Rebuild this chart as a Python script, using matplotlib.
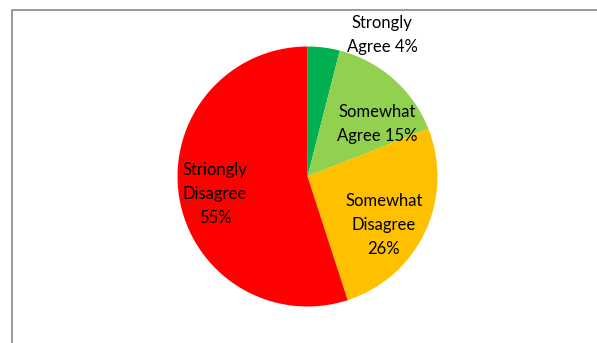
import matplotlib.pyplot as plt
from matplotlib.lines import Line2D

labels = ["Strongly\nAgree 4%", "Somewhat\nAgree 15%", "Somewhat\nDisagree\n26%", "Striongly\nDisagree\n55%"]
values = [4, 15, 26, 55]
colors = ["#00B050", "#92D050", "#FFC000", "#FF0000"]

W, H = 597, 343
fig = plt.figure(figsize=(W / 100, H / 100), dpi=100)
ax = fig.add_axes([0, 0, 1, 1])

ax.pie(values, colors=colors, startangle=90, counterclock=False,
       center=(307.5, H - 176.5), radius=130, frame=True)
ax.set_xlim(0, W)
ax.set_ylim(0, H)
ax.set_aspect("equal")
ax.axis("off")

# label placement in pixel coords (from top)
pos = [(382, 35), (377, 124), (384, 225), (215, 194)]
for lab, (x, y) in zip(labels, pos):
    ax.text(x, H - y, lab, ha="center", va="center", fontsize=12,
            family="Lato", linespacing=1.6, color="black")

# chart frame (left and top edges only)
fig.add_artist(Line2D([11.5 / W, 11.5 / W, 1.0], [0, 1 - 9.5 / H, 1 - 9.5 / H],
                      transform=fig.transFigure, color="#888888", lw=1.2))

fig.savefig("out.png", dpi=100)
